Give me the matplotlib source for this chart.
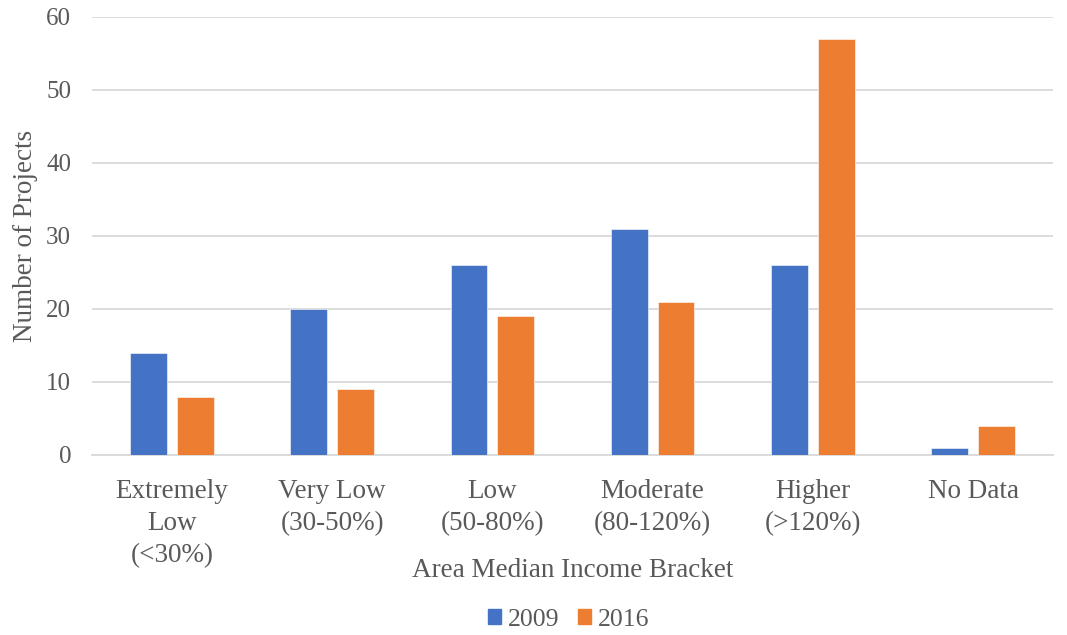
import numpy as np
import matplotlib.pyplot as plt
from matplotlib.patches import Patch

# chart values
brackets = ['Extremely\nLow\n(<30%)', 'Very Low\n(30-50%)', 'Low\n(50-80%)',
            'Moderate\n(80-120%)', 'Higher\n(>120%)', 'No Data']
projects_2009 = [14, 20, 26, 31, 26, 1]
projects_2016 = [8, 9, 19, 21, 57, 4]
y_ticks = [0, 10, 20, 30, 40, 50, 60]

blue = '#4472C4'
orange = '#ED7D31'
text_grey = '#595959'
grid_grey = '#D9D9D9'

plt.rcParams['font.family'] = ['Liberation Serif', 'DejaVu Serif']

fig = plt.figure(figsize=(10.67, 6.35), dpi=100)
ax = fig.add_axes([0.0862, 0.2835, 0.9008, 0.6898])

x = np.arange(len(brackets))
w = 0.23
off = 0.146
ax.bar(x - off, projects_2009, w, color=blue, edgecolor='white', linewidth=0.4, zorder=3)
ax.bar(x + off, projects_2016, w, color=orange, edgecolor='white', linewidth=0.4, zorder=3)

ax.set_xlim(-0.5, len(brackets) - 0.5)
ax.set_ylim(0, 60)
ax.set_yticks(y_ticks)
ax.yaxis.grid(True, color=grid_grey, linewidth=1.3, zorder=0)
ax.set_axisbelow(True)
for s in ['top', 'right', 'left']:
    ax.spines[s].set_visible(False)
ax.spines['bottom'].set_color(grid_grey)
ax.spines['bottom'].set_linewidth(1.3)

ax.set_xticks(x)
ax.set_xticklabels(brackets, fontsize=19.5, color=text_grey, linespacing=1.38, va='top')
ax.tick_params(axis='x', length=0, pad=17)
ax.tick_params(axis='y', length=0, pad=15, labelsize=18, labelcolor=text_grey)

ax.set_ylabel('Number of Projects', fontsize=19.5, color=text_grey, labelpad=6)
ax.set_xlabel('Area Median Income Bracket', fontsize=19.5, color=text_grey, labelpad=-7)

handles = [Patch(color=blue, label='2009'), Patch(color=orange, label='2016')]
fig.legend(handles=handles, loc='center', bbox_to_anchor=(0.533, 0.024), ncol=2,
           frameon=False, fontsize=18.5, labelcolor=text_grey, handlelength=0.5,
           handleheight=0.5, handletextpad=0.3, columnspacing=0.7)

fig.savefig('out.png', dpi=100)
